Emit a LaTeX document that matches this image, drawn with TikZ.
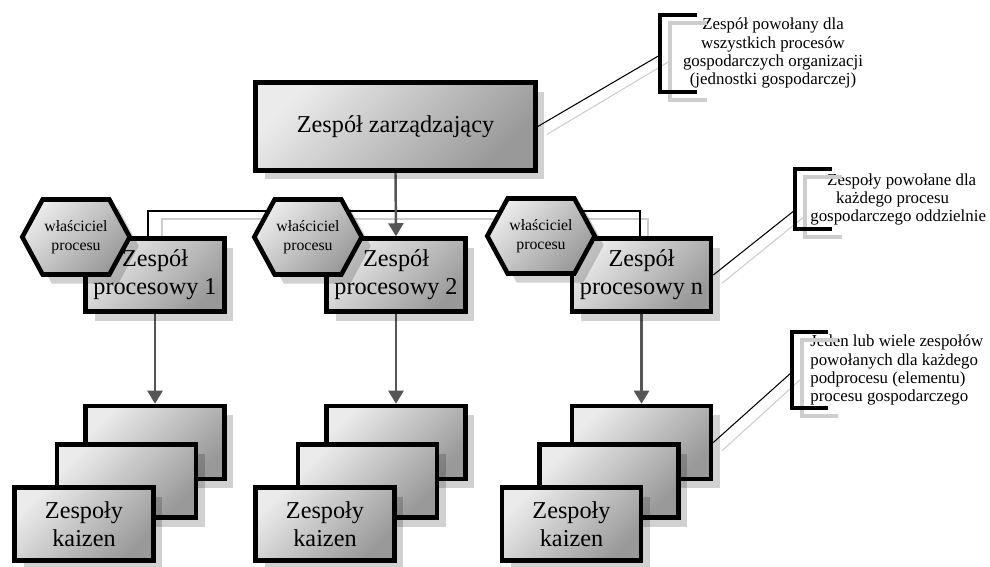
\documentclass[tikz,border=0pt]{standalone}
\usepackage{fontspec}
\setmainfont{Liberation Serif}
\usetikzlibrary{arrows.meta, shapes.symbols, shadows, backgrounds}
\definecolor{arrowGray}{RGB}{85,85,85}
\definecolor{shadowGray}{RGB}{205,205,205}

\begin{document}
\begin{tikzpicture}[x=0.02cm, y=-0.02cm,
    box/.style={draw=black, line width=2.6pt, top color=black!8, bottom color=black!40, shading angle=45,
        minimum width=2.78cm, minimum height=1.46cm, inner sep=1pt, align=center,
        font=\fontsize{13.8}{16}\selectfont,
        drop shadow={shadow xshift=0.18cm, shadow yshift=-0.18cm, fill=black, opacity=0.18}},
    owner/.style={box, shape=signal, signal to=east and west, signal pointer angle=123,
        minimum width=1.92cm, minimum height=1.5cm, font=\fontsize{9}{11}\selectfont},
    note/.style={align=center, inner sep=0pt, font=\fontsize{9.6}{10.3}\selectfont},
    bracket/.style={line width=2.6pt},
    bracketshadow/.style={line width=2.6pt, shadowGray},
    link/.style={line width=0.6pt},
    linkshadow/.style={line width=0.6pt, shadowGray},
    down/.style={line width=1.4pt, arrowGray, -{Triangle[width=0.3cm, length=0.26cm]}}]
    \useasboundingbox (0,0) rectangle (990,566);

    % Zespół zarządzający
    \node[box, minimum width=5.6cm, minimum height=1.76cm] (top) at (395.5,126.5) {Zespół zarządzający};

    % Zespoły procesowe i właściciele procesów
    \node[box] (proc1) at (155,275) {Zespół\\procesowy 1};
    \node[box] (proc2) at (396,275) {Zespół\\procesowy 2};
    \node[box] (procn) at (641.5,275) {Zespół\\procesowy n};
    \node[owner] (own1) at (76,237) {właściciel\\procesu};
    \node[owner] (own2) at (308,237) {właściciel\\procesu};
    \node[owner] (ownn) at (541,236) {właściciel\\procesu};

    % Zespoły kaizen (po trzy karty)
    \node[box] (back1) at (155,442.5) {};
    \node[box] (mid1) at (126.5,481) {};
    \node[box] (kaizen1) at (84,524) {Zespoły\\kaizen};
    \node[box] (back2) at (396,442.5) {};
    \node[box] (mid2) at (367.5,481) {};
    \node[box] (kaizen2) at (325,524) {Zespoły\\kaizen};
    \node[box] (backn) at (641.5,442.5) {};
    \node[box] (midn) at (609,481) {};
    \node[box] (kaizenn) at (571.5,524) {Zespoły\\kaizen};

    % Opisy z prawej strony
    \node[note] (note1) at (773,53) {Zespół powołany dla\\wszystkich procesów\\gospodarczych organizacji\\(jednostki gospodarczej)};
    \node[note, align=left, anchor=west] (note2) at (810,199.5) {\hspace{9.6pt}Zespoły powołane dla\\\hspace{14.7pt}każdego procesu\\gospodarczego oddzielnie};
    \node[note, align=left, anchor=west] (note3) at (810,370) {Jeden lub wiele zespołów\\powołanych dla każdego\\podprocesu (elementu)\\procesu gospodarczego};

    % Nawiasy przy opisach
    \draw[bracketshadow] (707,23) -- (670,23) -- (670,100) -- (707,100);
    \draw[bracket] (697,15) -- (660,15) -- (660,92) -- (697,92);
    \draw[bracketshadow] (842,177) -- (805,177) -- (805,237) -- (842,237);
    \draw[bracket] (832,169) -- (795,169) -- (795,229) -- (832,229);
    \draw[bracketshadow] (838,340) -- (802,340) -- (802,416) -- (838,416);
    \draw[bracket] (828,332) -- (792,332) -- (792,408) -- (828,408);
    \coordinate (br1) at (660,55);
    \coordinate (br2) at (795,210);
    \coordinate (br3) at (792,372);
    \coordinate (treeL) at (148,211);
    \coordinate (treeR) at (640,211);
    \coordinate (treeLs) at (162,219);
    \coordinate (treeRs) at (648,219);

    \begin{scope}[on background layer]
        % Linie do opisów
        \draw[linkshadow] ([xshift=0.18cm, yshift=-0.16cm]top.east) -- ([xshift=0.2cm, yshift=-0.12cm]br1);
        \draw[link] (top.east) -- (br1);
        \draw[linkshadow] ([xshift=0.18cm, yshift=-0.16cm]procn.east) -- ([xshift=0.2cm, yshift=-0.12cm]br2);
        \draw[link] (procn.east) -- (br2);
        \draw[linkshadow] ([xshift=0.18cm, yshift=-0.16cm]backn.east) -- ([xshift=0.2cm, yshift=-0.12cm]br3);
        \draw[link] (backn.east) -- (br3);

        % Połączenie zespołów procesowych
        \draw[linkshadow] (treeLs |- proc1.north) -- (treeLs) -- (treeRs) -- (treeRs |- procn.north);
        \draw[link] (treeL |- proc1.north) -- (treeL) -- (treeR) -- (treeR |- procn.north);

        % Strzałki
        \draw[down] (top.south) -- (proc2.north);
        \draw[down] (proc1.south) -- (back1.north);
        \draw[down] (proc2.south) -- (back2.north);
        \draw[down] (procn.south) -- (backn.north);
    \end{scope}
\end{tikzpicture}
\end{document}
